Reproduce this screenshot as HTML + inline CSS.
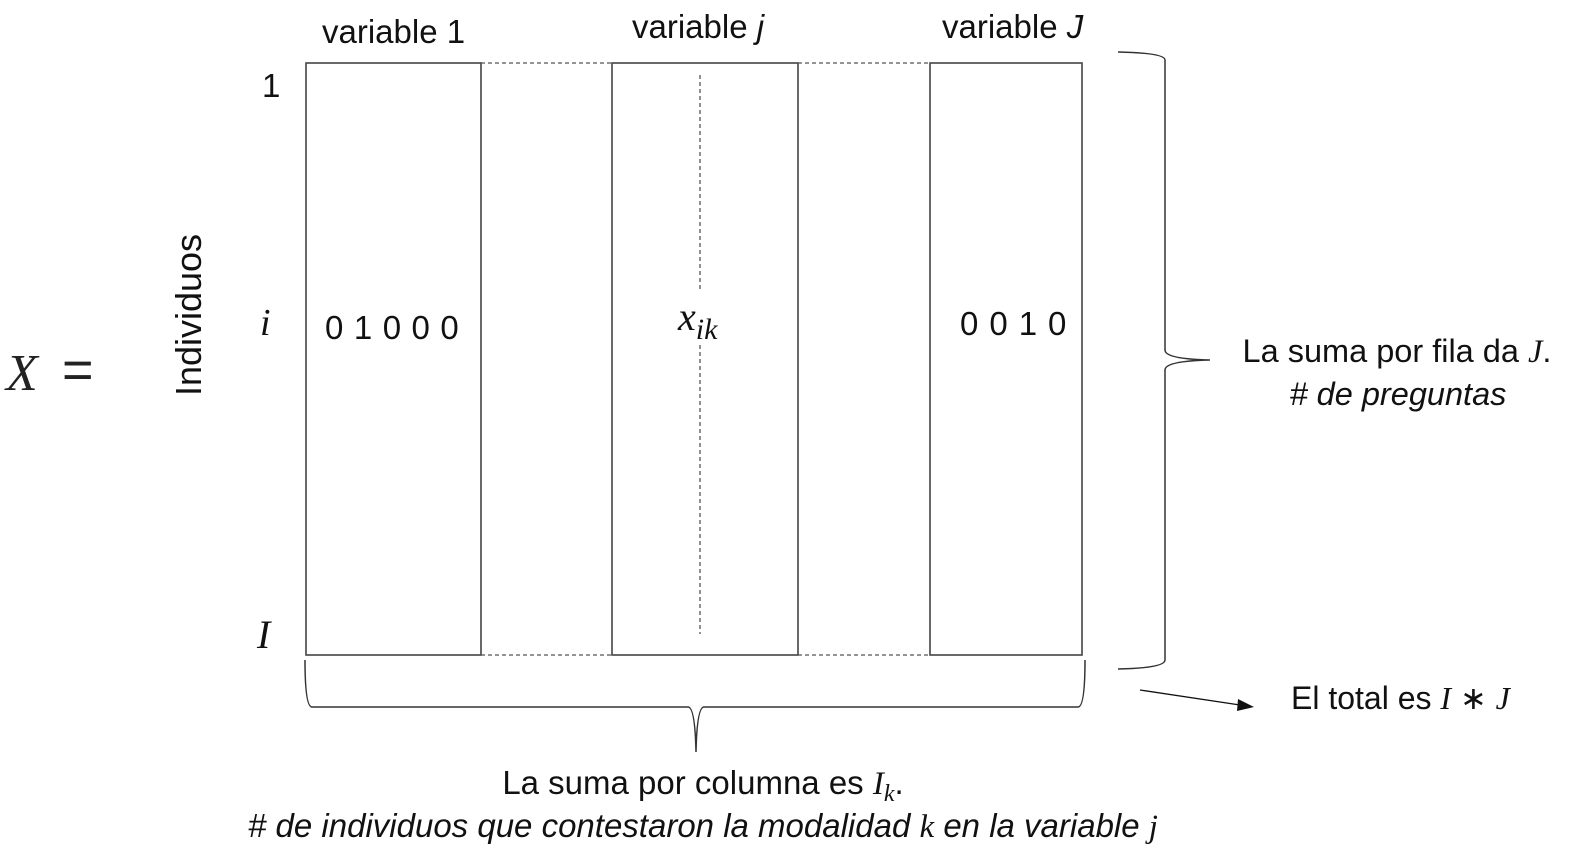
<!DOCTYPE html>
<html><head><meta charset="utf-8">
<style>
html,body{margin:0;padding:0;background:#fff;}
svg{display:block;}
.sans{font-family:"Liberation Sans",sans-serif;}
.serif{font-family:"Liberation Serif",serif;font-style:italic;}
</style></head>
<body>
<svg width="1570" height="853" viewBox="0 0 1570 853" xmlns="http://www.w3.org/2000/svg">
<g>
<text x="6" y="390" class="serif" font-size="52" fill="#222">X</text>
<text x="62" y="388" class="sans" font-size="54" fill="#222">=</text>
</g>
<text transform="translate(201,315) rotate(-90)" text-anchor="middle" class="sans" font-size="36" fill="#111">Individuos</text>
<g>
<text x="262" y="97" class="sans" font-size="33" fill="#111">1</text>
<text x="260" y="335" class="serif" font-size="38" fill="#111">i</text>
<text x="257" y="648" class="serif" font-size="40" fill="#111">I</text>
</g>
<g class="sans" font-size="33" fill="#111">
<text x="322" y="43">variable 1</text>
<text x="632" y="38">variable <tspan font-style="italic">j</tspan></text>
<text x="942" y="38">variable <tspan font-style="italic">J</tspan></text>
</g>
<g fill="none" stroke="#444" stroke-width="1.6">
<rect x="306" y="63" width="175" height="592"/>
<rect x="612" y="63" width="186" height="592"/>
<rect x="930" y="63" width="152" height="592"/>
</g>
<g stroke="#555" stroke-width="1.3" stroke-dasharray="4,3">
<line x1="481" y1="63" x2="612" y2="63"/><line x1="798" y1="63" x2="930" y2="63"/>
<line x1="481" y1="655" x2="612" y2="655"/><line x1="798" y1="655" x2="930" y2="655"/>
<line x1="700" y1="75" x2="700" y2="292"/><line x1="700" y1="345" x2="700" y2="634"/>
</g>
<text x="325" y="339" class="sans" font-size="33" letter-spacing="10.5" fill="#111">01000</text>
<text x="678" y="330" class="serif" font-size="40" fill="#111">x<tspan font-size="30" dy="9">ik</tspan></text>
<text x="960" y="335" class="sans" font-size="33" letter-spacing="11" fill="#111">0010</text>
<path d="M1118,52 Q1165,53 1165,60 L1165,350 Q1165,359 1210,360 Q1165,361 1165,370 L1165,660 Q1165,668 1118,669" fill="none" stroke="#333" stroke-width="1.5"/>
<g font-size="32.5" fill="#111" text-anchor="middle">
<text x="1397" y="362" class="sans">La suma por fila da <tspan font-family="Liberation Serif" font-style="italic">J</tspan>.</text>
<text x="1398" y="405" class="sans" font-style="italic">#  de preguntas</text>
</g>
<path d="M305,660 Q305,707 312,707 L688,707 Q695,707 696,752 Q697,707 704,707 L1078,707 Q1085,707 1085,660" fill="none" stroke="#333" stroke-width="1.5"/>
<g>
<line x1="1140" y1="690" x2="1240" y2="705" stroke="#111" stroke-width="1.3"/>
<polygon points="1254,707 1238,699 1237,711" fill="#111"/>
</g>
<text x="1291" y="709" class="sans" font-size="32" fill="#111">El total es <tspan font-family="Liberation Serif" font-style="italic">I</tspan> ∗ <tspan font-family="Liberation Serif" font-style="italic">J</tspan></text>
<g font-size="33" fill="#111" text-anchor="middle">
<text x="703" y="794" class="sans">La suma por columna es <tspan font-family="Liberation Serif" font-style="italic">I<tspan font-size="24" dy="7">k</tspan></tspan><tspan dy="-7">.</tspan></text>
<text x="703" y="837" class="sans" font-style="italic"># de individuos que contestaron la modalidad <tspan font-family="Liberation Serif">k</tspan> en la variable <tspan font-family="Liberation Serif">j</tspan></text>
</g>
</svg>
</body></html>
